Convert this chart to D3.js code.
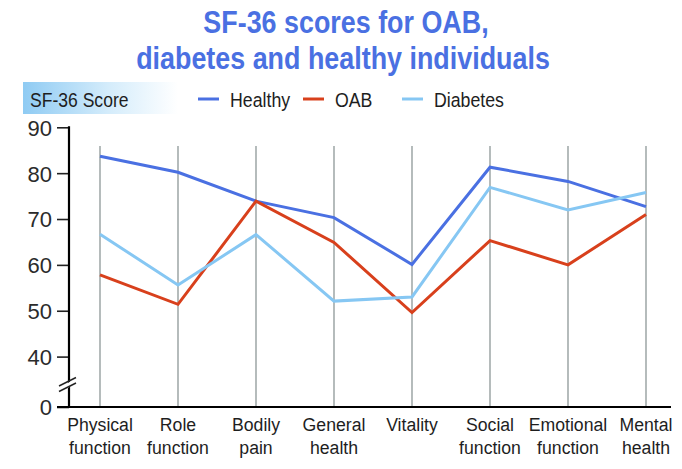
<!DOCTYPE html>
<html>
<head>
<meta charset="utf-8">
<script src="https://cdn.jsdelivr.net/npm/d3@7"></script>
<style>
  body { margin: 0; background: #fff; }
  svg text { font-family: "Liberation Sans", Arial, sans-serif; }
  .title { fill: #4a70e2; font-weight: bold; font-size: 32px; }
  .tick-label { fill: #2b2b2b; font-size: 22px; }
  .cat-label { fill: #1e1e1e; font-size: 19px; }
  .legend-text { fill: #1e1e1e; font-size: 19.5px; }
  .grid { stroke: #a3abab; stroke-width: 1.6; }
  .series { fill: none; stroke-width: 3; stroke-linejoin: miter; }
</style>
</head>
<body>
<div id="chart"></div>
<script>
// categories (two-line labels)
const categories = [
    ["Physical", "function"],
    ["Role", "function"],
    ["Bodily", "pain"],
    ["General", "health"],
    ["Vitality", ""],
    ["Social", "function"],
    ["Emotional", "function"],
    ["Mental", "health"]
];

// series values
const healthy  = [83.7, 80.2, 73.9, 70.3, 60.1, 81.3, 78.2, 72.7];
const oab      = [57.8, 51.4, 73.9, 64.9, 49.6, 65.3, 60.0, 71.0];
const diabetes = [66.7, 55.6, 66.6, 52.1, 53.0, 76.9, 72.0, 75.8];

const seriesNames  = ["Healthy", "OAB", "Diabetes"];
const seriesColors = ["#4a70e2", "#d8401c", "#86c7f3"];

const yTicks = [0, 40, 50, 60, 70, 80, 90];

const width = 682, height = 469;
const svg = d3.select("#chart").append("svg")
    .attr("width", width)
    .attr("height", height);

// the reference uses a condensed face, so squeeze the text horizontally
function narrowText(parent, x, y, str, cls, sx, anchor) {
    return parent.append("text")
        .attr("class", cls)
        .attr("text-anchor", anchor || "start")
        .attr("transform", `translate(${x},${y}) scale(${sx},1)`)
        .text(str);
}

// title
narrowText(svg, 346, 33, "SF-36 scores for OAB,", "title", 0.84, "middle");
narrowText(svg, 343, 69, "diabetes and healthy individuals", "title", 0.84, "middle");

// scales -- y axis has a break between 0 and 40
const xScale = d3.scalePoint()
    .domain(d3.range(categories.length))
    .range([100, 646]);

const yScale = d3.scaleLinear()
    .domain([0, 40, 90])
    .range([407, 356.6, 127.3]);

// "SF-36 Score" header with a fading gradient
const defs = svg.append("defs");
const grad = defs.append("linearGradient").attr("id", "hdr");
grad.append("stop").attr("offset", "0%").attr("stop-color", "#8fcbf3");
grad.append("stop").attr("offset", "55%").attr("stop-color", "#d4ecfb");
grad.append("stop").attr("offset", "100%").attr("stop-color", "#ffffff");

svg.append("rect")
    .attr("x", 23).attr("y", 82)
    .attr("width", 155).attr("height", 32)
    .attr("fill", "url(#hdr)");
narrowText(svg, 30, 107, "SF-36 Score", "legend-text", 0.9);

// legend
const legendX = [198, 303, 402];
seriesNames.forEach((name, i) => {
    const g = svg.append("g").attr("transform", `translate(${legendX[i]},99)`);
    g.append("line")
        .attr("x1", 0).attr("x2", 21)
        .attr("stroke", seriesColors[i]).attr("stroke-width", 3);
    narrowText(g, 32, 8, name, "legend-text", 0.91);
});

// vertical grid lines
svg.selectAll("line.grid")
    .data(categories)
    .enter()
    .append("line")
    .attr("class", "grid")
    .attr("x1", (d, i) => xScale(i))
    .attr("x2", (d, i) => xScale(i))
    .attr("y1", 146)
    .attr("y2", 407);

// y axis
const yAxis = d3.axisLeft(yScale)
    .tickValues(yTicks)
    .tickSize(12)
    .tickPadding(5);

const yg = svg.append("g")
    .attr("transform", "translate(69,0)")
    .call(yAxis);
yg.select(".domain").remove();
yg.selectAll(".tick line").attr("stroke", "#222").attr("stroke-width", 1.6);
yg.selectAll(".tick text")
    .attr("class", "tick-label")
    .attr("font-size", null)
    .attr("font-family", null)
    .attr("fill", null)
    .attr("dy", "0.36em");

svg.append("line")
    .attr("x1", 69).attr("x2", 69)
    .attr("y1", yScale(90) - 1).attr("y2", yScale(0))
    .attr("stroke", "#000").attr("stroke-width", 2.2);

// axis break marks
svg.append("polygon")
    .attr("points", "58,389 76,378 76,383 58,394")
    .attr("fill", "#fff");
svg.append("line")
    .attr("x1", 59).attr("y1", 386).attr("x2", 76).attr("y2", 377.5)
    .attr("stroke", "#222").attr("stroke-width", 1.5);
svg.append("line")
    .attr("x1", 59).attr("y1", 391.5).attr("x2", 76).attr("y2", 383)
    .attr("stroke", "#222").attr("stroke-width", 1.5);

// baseline
svg.append("line")
    .attr("x1", 57).attr("x2", 671)
    .attr("y1", yScale(0)).attr("y2", yScale(0))
    .attr("stroke", "#000").attr("stroke-width", 2.2);

// category labels
const catG = svg.selectAll("g.cat")
    .data(categories)
    .enter()
    .append("g")
    .attr("class", "cat")
    .attr("transform", (d, i) => `translate(${xScale(i)},0)`);
catG.each(function(d) {
    const g = d3.select(this);
    narrowText(g, 0, 431, d[0], "cat-label", 0.93, "middle");
    narrowText(g, 0, 454, d[1], "cat-label", 0.93, "middle");
});

// series lines
const line = d3.line()
    .x((d, i) => xScale(i))
    .y(d => yScale(d));

[healthy, oab, diabetes].forEach((values, i) => {
    svg.append("path")
        .datum(values)
        .attr("class", "series")
        .attr("stroke", seriesColors[i])
        .attr("d", line);
});
</script>
</body>
</html>
